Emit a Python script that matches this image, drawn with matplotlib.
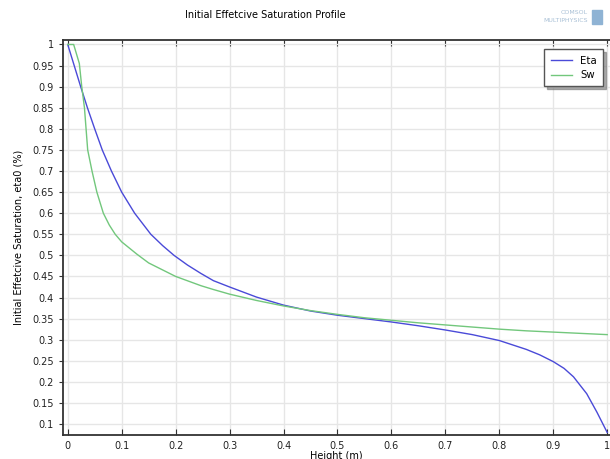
import matplotlib

matplotlib.use("Agg")

import matplotlib.pyplot as plt

# Values
height_eta = [0.0, 0.012, 0.024, 0.0365, 0.05, 0.064, 0.081, 0.1, 0.124, 0.154, 0.176, 0.197,
              0.222, 0.247, 0.27, 0.3, 0.35, 0.4, 0.45, 0.5, 0.55, 0.6, 0.65, 0.7,
              0.75, 0.8, 0.85, 0.875, 0.9, 0.92, 0.9375, 0.962, 0.981, 1.0]
eta = [1.0, 0.95, 0.9, 0.85, 0.8, 0.75, 0.7, 0.65, 0.6, 0.55, 0.523, 0.5,
       0.477, 0.457, 0.44, 0.425, 0.401, 0.382, 0.368, 0.358, 0.35, 0.342, 0.333, 0.323,
       0.312, 0.298, 0.277, 0.264, 0.248, 0.232, 0.212, 0.172, 0.128, 0.08]

height_sw = [0.0, 0.011, 0.0215, 0.026, 0.031, 0.034, 0.037, 0.045, 0.054, 0.066,
             0.077, 0.088, 0.1, 0.128, 0.15, 0.2, 0.247, 0.27, 0.3, 0.35, 0.4, 0.45,
             0.5, 0.55, 0.6, 0.65, 0.7, 0.75, 0.8, 0.85, 0.9, 0.95, 1.0]
sw = [1.0, 1.0, 0.955, 0.9, 0.85, 0.8, 0.75, 0.7, 0.65, 0.6,
      0.572, 0.55, 0.532, 0.503, 0.482, 0.45, 0.428, 0.419, 0.408, 0.393, 0.38, 0.369,
      0.36, 0.352, 0.346, 0.34, 0.335, 0.33, 0.325, 0.321, 0.318, 0.315, 0.312]

x_ticks = [0, 0.1, 0.2, 0.3, 0.4, 0.5, 0.6, 0.7, 0.8, 0.9, 1]
y_ticks = [0.1, 0.15, 0.2, 0.25, 0.3, 0.35, 0.4, 0.45, 0.5, 0.55, 0.6,
           0.65, 0.7, 0.75, 0.8, 0.85, 0.9, 0.95, 1]

plt.rcParams["font.family"] = ["DejaVu Sans"]
plt.rcParams["font.size"] = 7

fig = plt.figure(figsize=(6.1, 4.59), dpi=100)
ax = fig.add_axes([0.1028, 0.0523, 0.8972, 0.8595])

ax.plot(height_eta, eta, color="#4a4ad8", linewidth=1.0, label="Eta")
ax.plot(height_sw, sw, color="#72c77c", linewidth=1.0, label="Sw")

ax.set_xlim(-0.0093, 1.0052)
ax.set_ylim(0.074, 1.0095)
ax.set_xticks(x_ticks)
ax.set_xticklabels([f"{v:g}" for v in x_ticks])
ax.set_yticks(y_ticks)
ax.set_yticklabels([f"{v:g}" for v in y_ticks])
ax.tick_params(axis="x", direction="in", length=4, top=True, colors="#333333",
               labelcolor="#222222", pad=4)
ax.tick_params(axis="y", direction="out", length=3, colors="#333333",
               labelcolor="#222222")
ax.grid(color="#e6e6e6", linewidth=1.0)
ax.set_axisbelow(True)
for side in ("left", "bottom", "top"):
    ax.spines[side].set_color("#333333")
    ax.spines[side].set_linewidth(1.3)
ax.spines["right"].set_visible(False)

ax.set_xlabel("Height (m)", labelpad=0)
ax.set_ylabel("Initial Effetcive Saturation, eta0 (%)", labelpad=6)

leg = ax.legend(loc="upper right", bbox_to_anchor=(0.996, 0.99), fancybox=False,
                shadow={"color": "#777777", "alpha": 0.6}, framealpha=1,
                edgecolor="#555555", handlelength=2.1, borderpad=0.6,
                labelspacing=0.45, fontsize=7.3)
leg.get_frame().set_linewidth(1.0)

fig.text(265 / 610, 1 - 15 / 459, "Initial Effetcive Saturation Profile",
         ha="center", va="center", fontsize=7)
fig.text(588 / 610, 1 - 12 / 459, "COMSOL", ha="right", va="center",
         fontsize=4.5, color="#a9c0d6")
fig.text(588 / 610, 1 - 20 / 459, "MULTIPHYSICS", ha="right", va="center",
         fontsize=4.5, color="#a9c0d6")
fig.patches.append(plt.Rectangle((592 / 610, 1 - 24 / 459), 10 / 610, 14 / 459,
                                 transform=fig.transFigure, color="#8fb3d4",
                                 figure=fig))

fig.savefig("out.png", dpi=100)
plt.close(fig)
